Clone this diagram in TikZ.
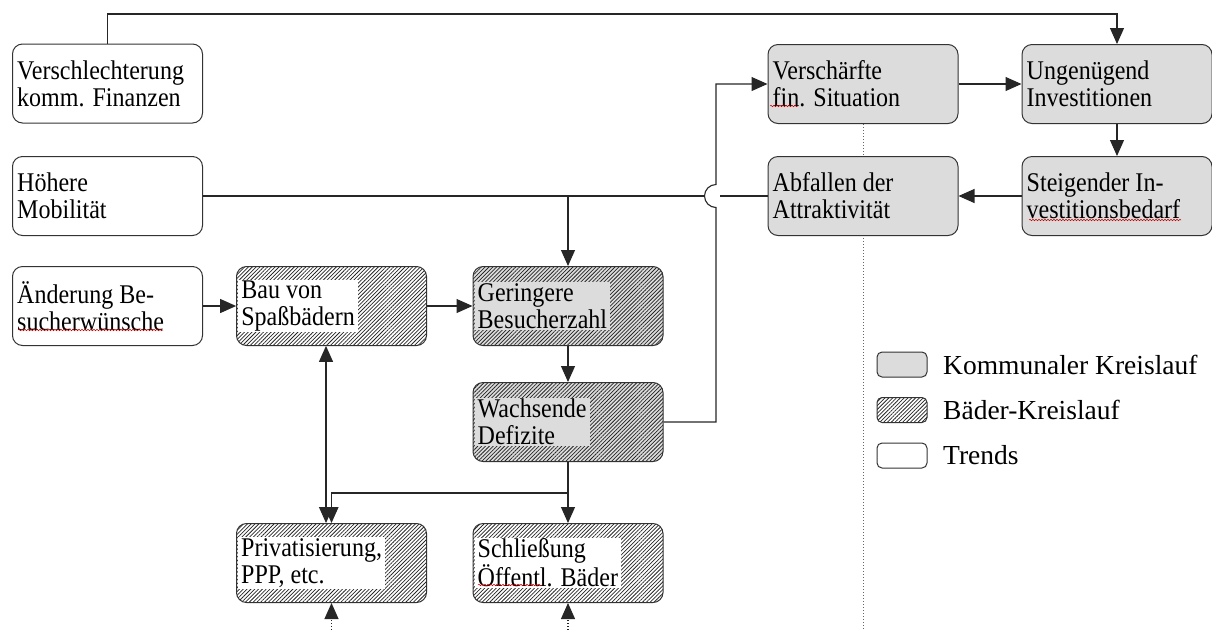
\documentclass[tikz,border=0pt]{standalone}
\usepackage{fontspec}
\setmainfont{Liberation Serif}
\newfontfamily\boxfont[FakeStretch=0.89]{Liberation Serif}
\usetikzlibrary{arrows.meta,patterns.meta,decorations.pathmorphing,calc}
\definecolor{kgray}{RGB}{220,220,220}
\pgfdeclarelayer{background}
\pgfsetlayers{background,main}
\begin{document}
\begin{tikzpicture}[x=1pt,y=-1pt,
  conn/.style={draw=black!85, line width=1.1pt},
  arr/.style={conn, -{Triangle[length=16pt,width=14pt]}},
  dotarr/.style={draw=black!85, line width=1.1pt, dotted, -{Triangle[length=16pt,width=14pt]}},
  box/.style={draw=black!80, line width=1pt, rounded corners=10pt, minimum width=190pt, minimum height=79pt, inner sep=0pt},
  trend/.style={box, fill=white},
  komm/.style={box, fill=kgray},
  hatch/.style={box, pattern={Lines[angle=45,distance=2.7pt,line width=0.75pt]}, pattern color=black!85},
  hatchg/.style={hatch, preaction={fill=kgray}},
  lbl/.style={align=left, inner xsep=3pt, inner ysep=1pt, anchor=west, font=\boxfont\fontsize{27}{27}\selectfont},
  legbox/.style={draw=black!80, line width=1pt, rounded corners=5pt, minimum width=50pt, minimum height=25pt, inner sep=0pt},
  legtext/.style={anchor=west, inner sep=0pt, font=\fontsize{27.5}{30}\selectfont},
  squig/.style={draw=red!80!black, line width=0.5pt, decorate, decoration={snake, amplitude=0.8pt, segment length=3pt}}
]
\useasboundingbox (0,0) rectangle (1212,630);

% boxes
\node[trend] (vk) at (107.5,83.5) {};
\node[trend] (hm) at (107.5,196) {};
\node[trend] (ab) at (107.5,306) {};
\node[hatch] (bau) at (331.5,306) {};
\node[hatchg] (ger) at (568,306) {};
\node[hatchg] (wach) at (568,422) {};
\node[hatch] (priv) at (331.5,563) {};
\node[hatch] (schl) at (568,563) {};
\node[komm] (vfs) at (863,84) {};
\node[komm] (ung) at (1117,84) {};
\node[komm] (abf) at (863,196) {};
\node[komm] (stb) at (1117,196) {};

% background dotted separator
\coordinate (bot) at (0,630);
\begin{pgfonlayer}{background}
\draw[black!60, dotted, line width=1pt] (vfs.south) -- (vfs.south |- bot);
\end{pgfonlayer}

% labels
\node[lbl] (vk-t) at ([xshift=2pt]vk.west) {Verschlechterung\\komm. Finanzen};
\node[lbl] (hm-t) at ([xshift=2pt]hm.west) {Höhere\\Mobilität};
\node[lbl] (ab-t) at ([xshift=2pt]ab.west) {Änderung Be-\\sucherwünsche};
\node[lbl, fill=white] (bau-t) at ([xshift=2pt]bau.west) {Bau von\\Spaßbädern};
\node[lbl, fill=kgray] (ger-t) at ([xshift=2pt]ger.west) {Geringere\\Besucherzahl};
\node[lbl, fill=kgray] (wach-t) at ([xshift=2pt]wach.west) {Wachsende\\Defizite};
\node[lbl, fill=white] (priv-t) at ([xshift=2pt]priv.west) {Privatisierung,\\PPP, etc.};
\node[lbl, fill=white] (schl-t) at ([xshift=2pt]schl.west) {Schließung\\Öffentl. Bäder};
\node[lbl] (vfs-t) at ([xshift=2pt]vfs.west) {Verschärfte\\fin. Situation};
\node[lbl] (ung-t) at ([xshift=2pt]ung.west) {Ungenügend\\Investitionen};
\node[lbl] (abf-t) at ([xshift=2pt]abf.west) {Abfallen der\\Attraktivität};
\node[lbl] (stb-t) at ([xshift=2pt]stb.west) {Steigender In-\\vestitionsbedarf};

% connectors
\coordinate (topy) at (0,14);
\coordinate (jx) at (716,0);
\coordinate (splity) at (0,493);
\coordinate (bx) at (326,0);

\draw[arr] (vk.north) -- (vk.north |- topy) -| (ung.north);
\draw[arr] (vfs.east) -- (ung.west);
\draw[arr] (ung.south) -- (stb.north);
\draw[arr] (stb.west) -- (abf.east);
\draw[conn] (abf.west) -- ($(jx |- abf.west)+(4,0)$);
\draw[conn] ($(jx |- abf.west)+(-11.5,0)$) -- (hm.east);
\draw[arr] (hm.east -| ger.north) -- (ger.north);
\draw[arr] (wach.east) -| ($(jx |- abf.west)+(0,11.5)$) arc[start angle=270, end angle=90, radius=11.5pt] |- (vfs.west);
\draw[arr] (ab.east) -- (bau.west);
\draw[arr] (bau.east) -- (ger.west);
\draw[arr] (ger.south) -- (wach.north);
\draw[arr] (wach.south) -- (schl.north);
\draw[arr] (wach.south |- splity) -| (priv.north);
\draw[conn, {Triangle[length=16pt,width=14pt]}-{Triangle[length=16pt,width=14pt]}] (bau.south -| bx) -- (priv.north -| bx);
\draw[dotarr] (priv.south |- bot) -- (priv.south);
\draw[dotarr] (schl.south |- bot) -- (schl.south);

% spell-check marks
\draw[squig] (770,106) -- (798,106);
\draw[squig] (1029,220) -- (1181,220);
\draw[squig] (18,330) -- (163,330);
\draw[squig] (478,585) -- (542,585);

% legend
\node[legbox, fill=kgray] (lk) at (902,364.5) {};
\node[legbox, pattern={Lines[angle=45,distance=2.7pt,line width=0.75pt]}, pattern color=black!85] (lb) at (902,410) {};
\node[legbox, fill=white] (lt) at (902,455.5) {};
\node[legtext] (lk-t) at (943,364.5) {Kommunaler Kreislauf};
\node[legtext] (lb-t) at (943,410) {Bäder-Kreislauf};
\node[legtext] (lt-t) at (943,455.5) {Trends};
\end{tikzpicture}
\end{document}
